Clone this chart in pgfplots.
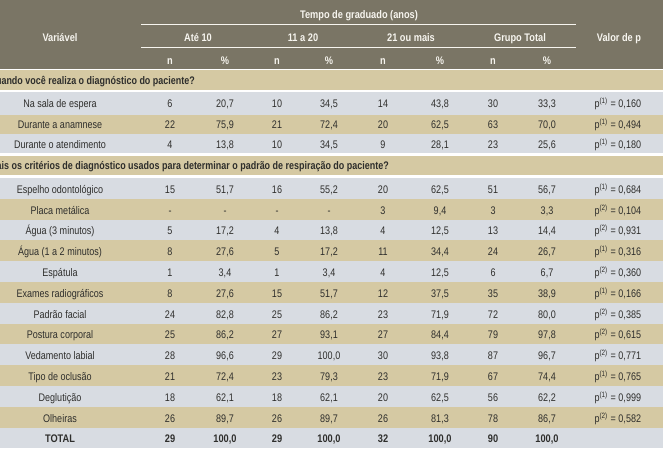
\documentclass[border=0pt]{standalone}
\usepackage{fontspec}
\setmainfont{Liberation Sans}[FakeStretch=0.82,BoldFeatures={FakeStretch=0.84}]
\newfontfamily\secf{Liberation Sans}[FakeStretch=0.815,BoldFeatures={FakeStretch=0.815}]
\usepackage{pgfplots}
\usepackage{pgfplotstable}
\pgfplotsset{compat=1.18}
\definecolor{hdr}{HTML}{7A7565}
\definecolor{tanrow}{HTML}{D5C9A3}
\definecolor{gryrow}{HTML}{D8DCE2}
\definecolor{txt}{HTML}{2E2E2C}
\definecolor{htxt}{HTML}{F7F5EF}

% rows: y = text centre (px from top)
\pgfplotstableread[col sep=semicolon]{
y;lab;na;pa;nb;pb;nc;pc;nt;pt;s;pv
104;Na sala de espera;6;20,7;10;34,5;14;43,8;30;33,3;1;0,160
125;Durante a anamnese;22;75,9;21;72,4;20;62,5;63;70,0;1;0,494
144.5;Durante o atendimento;4;13,8;10;34,5;9;28,1;23;25,6;1;0,180
189.4;Espelho odontológico;15;51,7;16;55,2;20;62,5;51;56,7;1;0,684
210.2;Placa metálica;-;-;-;-;3;9,4;3;3,3;2;0,104
231.0;Água (3 minutos);5;17,2;4;13,8;4;12,5;13;14,4;2;0,931
251.8;Água (1 a 2 minutos);8;27,6;5;17,2;11;34,4;24;26,7;1;0,316
272.6;Espátula;1;3,4;1;3,4;4;12,5;6;6,7;2;0,360
293.4;Exames radiográficos;8;27,6;15;51,7;12;37,5;35;38,9;1;0,166
314.2;Padrão facial;24;82,8;25;86,2;23;71,9;72;80,0;2;0,385
335.0;Postura corporal;25;86,2;27;93,1;27;84,4;79;97,8;2;0,615
355.8;Vedamento labial;28;96,6;29;100,0;30;93,8;87;96,7;2;0,771
376.6;Tipo de oclusão;21;72,4;23;79,3;23;71,9;67;74,4;1;0,765
397.4;Deglutição;18;62,1;18;62,1;20;62,5;56;62,2;1;0,999
418.2;Olheiras;26;89,7;26;89,7;26;81,3;78;86,7;2;0,582
}\rows
\pgfplotstableread[col sep=semicolon]{
y;lab;na;pa;nb;pb;nc;pc;nt;pt
439;TOTAL;29;100,0;29;100,0;32;100,0;90;100,0
}\tot

\newcommand\one[4]{\addplot[only marks,mark=none,nodes near coords,
  point meta=explicit symbolic,every node near coord/.append style={#4}]
  table[x expr=#2,y=y,meta=#3]{#1};}
\newcommand\cols[2]{%
  \one{#1}{60}{lab}{#2}\one{#1}{170}{na}{#2}\one{#1}{225}{pa}{#2}%
  \one{#1}{277}{nb}{#2}\one{#1}{329}{pb}{#2}\one{#1}{383}{nc}{#2}%
  \one{#1}{440}{pc}{#2}\one{#1}{493}{nt}{#2}\one{#1}{547}{pt}{#2}}

\begin{document}
\begin{tikzpicture}
\begin{axis}[
  width=663pt, height=454pt, scale only axis,
  xmin=0, xmax=663, ymin=0, ymax=454, y dir=reverse,
  hide axis, clip=false,
  every node near coord/.append style={anchor=base,inner sep=0pt,
    yshift=-3.9pt,text=txt,font=\fontsize{11}{13}\selectfont},
]
% bands
\fill[hdr] (axis cs:0,0) rectangle (axis cs:663,69);
\fill[tanrow] (axis cs:0,69.8) rectangle (axis cs:663,90.5);
\fill[gryrow] (axis cs:0,92.5) rectangle (axis cs:663,115);
\fill[tanrow] (axis cs:0,115) rectangle (axis cs:663,134);
\fill[gryrow] (axis cs:0,134) rectangle (axis cs:663,153);
\fill[tanrow] (axis cs:0,156) rectangle (axis cs:663,175.5);
\pgfplotsinvokeforeach{0,2,...,12}{
  \fill[gryrow] (axis cs:0,{178+#1*20.8}) rectangle (axis cs:663,{178+(#1+1)*20.8});}
\pgfplotsinvokeforeach{1,3,...,11}{
  \fill[tanrow] (axis cs:0,{178+#1*20.8}) rectangle (axis cs:663,{178+(#1+1)*20.8});}

% header
\draw[htxt,line width=0.9pt] (axis cs:141,24) -- (axis cs:576,24);
\draw[htxt,line width=0.9pt] (axis cs:141,47) -- (axis cs:576,47);
\begin{scope}[every node/.style={anchor=base,inner sep=0pt,text=htxt,
    font=\bfseries\fontsize{11}{13}\selectfont}]
\node at (axis cs:359,18.5) {Tempo de graduado (anos)};
\node at (axis cs:60,41.8) {Variável};
\node at (axis cs:619,41.8) {Valor de p};
\node at (axis cs:198,41.8) {Até 10};
\node at (axis cs:303,41.8) {11 a 20};
\node at (axis cs:411,41.8) {21 ou mais};
\node at (axis cs:520,41.8) {Grupo Total};
\node at (axis cs:170,64.5) {n};
\node at (axis cs:225,64.5) {\%};
\node at (axis cs:277,64.5) {n};
\node at (axis cs:329,64.5) {\%};
\node at (axis cs:383,64.5) {n};
\node at (axis cs:440,64.5) {\%};
\node at (axis cs:493,64.5) {n};
\node at (axis cs:547,64.5) {\%};
\end{scope}

% section titles (cut at the left edge as in the source)
\begin{scope}
\clip (axis cs:0,0) rectangle (axis cs:663,454);
\node[anchor=base east,inner sep=0pt,text=txt,font=\secf\bfseries\fontsize{11}{13}\selectfont]
  at (axis cs:195,84.5) {Quando você realiza o diagnóstico do paciente?};
\node[anchor=base east,inner sep=0pt,text=txt,font=\secf\bfseries\fontsize{11}{13}\selectfont]
  at (axis cs:389,169.5) {Quais os critérios de diagnóstico usados para determinar o padrão de respiração do paciente?};
\end{scope}

% body
\cols{\rows}{}
\cols{\tot}{font=\bfseries\fontsize{11}{13}\selectfont}
\addplot[only marks,mark=none,nodes near coords={p\textsuperscript{(\pgfplotspointmeta)}},
  point meta=explicit symbolic,every node near coord/.append style={anchor=base east}]
  table[x expr=608,y=y,meta=s]{\rows};
\addplot[only marks,mark=none,nodes near coords={\hspace*{2.5pt}= \pgfplotspointmeta},
  point meta=explicit symbolic,every node near coord/.append style={anchor=base west}]
  table[x expr=608,y=y,meta=pv]{\rows};
\end{axis}
\pgfresetboundingbox
\useasboundingbox (current axis.south west) rectangle (current axis.north east);
\end{tikzpicture}
\end{document}
